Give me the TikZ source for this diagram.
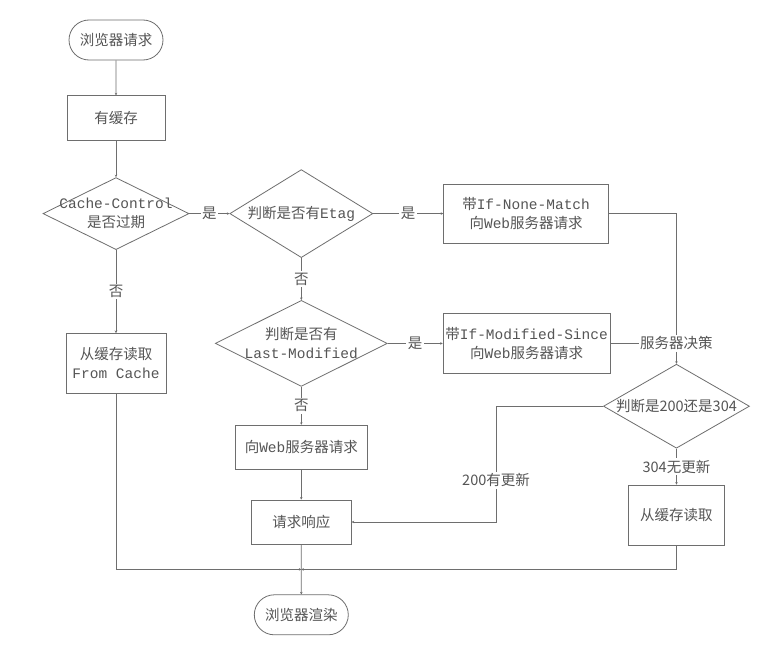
\documentclass[tikz,border=0pt]{standalone}
\usepackage{fontspec}
\setmainfont{Noto Sans CJK SC}
\newfontfamily\monof{Liberation Mono}
\newcommand{\en}[1]{{\monof #1}}
\usetikzlibrary{arrows.meta,positioning,shapes.geometric,shapes.misc}
\definecolor{inkgray}{HTML}{555555}
\definecolor{linegray}{HTML}{6E6E6E}

\begin{document}
\begin{tikzpicture}[x=1pt, y=-1pt,
  font=\fontsize{14.5}{19}\selectfont, text=inkgray,
  box/.style={draw=linegray, line width=0.8pt, align=center, inner sep=2pt},
  term/.style={box, rounded rectangle, minimum width=98pt, minimum height=40pt},
  dia/.style={draw=linegray, line width=0.8pt, diamond, inner sep=0pt},
  lbl/.style={fill=white, inner sep=1.5pt},
  ln/.style={draw=linegray, line width=0.8pt},
  arr/.style={ln, -{Stealth[length=2.5pt,width=2.5pt]}},
  node distance=30pt]
\useasboundingbox[fill=white] (0,0) rectangle (757,645);
% left column
\node[term] (start) at (116,40) {浏览器请求};
\node[box, minimum width=98pt, minimum height=45pt, below=35pt of start] (cache) {有缓存};
\node[dia, minimum width=146pt, minimum height=72pt, below=36pt of cache,
  label={[align=center]center:\en{Cache-Control}\\是否过期}] (cc) {};
\node[box, minimum width=100pt, minimum height=60pt, below=83pt of cc] (fc) {从缓存读取\\\en{From Cache}};
% middle column
\node[dia, minimum width=143pt, minimum height=88pt, right=40pt of cc,
  label={center:判断是否有\en{Etag}}] (etag) {};
\node[dia, minimum width=172pt, minimum height=86pt, below=42pt of etag,
  label={[align=center]center:判断是否有\\\en{Last-Modified}}] (lm) {};
\node[box, minimum width=132pt, minimum height=44pt, below=38pt of lm] (web) {向\en{Web}服务器请求};
\node[box, minimum width=100pt, minimum height=44pt, below=30pt of web] (resp) {请求响应};
\coordinate[below=25pt of resp] (merge);
\node[term, below=50pt of resp] (end) {浏览器渲染};
% right part
\node[box, minimum width=165pt, minimum height=59pt, right=70pt of etag] (nm) {带\en{If-None-Match}\\向\en{Web}服务器请求};
\node[box, minimum width=167pt, minimum height=60pt, right=55pt of lm] (ms) {带\en{If-Modified-Since}\\向\en{Web}服务器请求};
\node[lbl, right=28pt of ms] (dec) {服务器决策};
\node[dia, minimum width=146pt, minimum height=84pt, below=12pt of dec,
  label={center:判断是200还是304}] (d304) {};
\node[box, minimum width=96pt, minimum height=60pt, below=36pt of d304] (cache2) {从缓存读取};

\draw[arr] (start) -- (cache);
\draw[arr] (cache) -- (cc);
\draw[arr] (cc) -- node[lbl]{是} (etag);
\draw[arr] (cc) -- node[lbl]{否} (fc);
\draw[arr] (etag) -- node[lbl]{是} (nm);
\draw[arr] (etag) -- node[lbl]{否} (lm);
\draw[arr] (lm) -- node[lbl]{是} (ms);
\draw[arr] (lm) -- node[lbl]{否} (web);
\draw[arr] (web) -- (resp);
\draw[ln] (nm.east) -| (dec.north);
\draw[ln] (ms.east) -- (dec.west);
\draw[arr] (dec) -- (d304);
\draw[arr] (d304.west) -- ++(-107,0) |- node[lbl, pos=0.32]{200有更新} (resp.east);
\draw[arr] (d304) -- node[lbl]{304无更新} (cache2);
\draw[arr] (fc.south) |- (merge);
\draw[arr] (cache2.south) |- (merge);
\draw[arr] (resp) -- (end);
\end{tikzpicture}
\end{document}
